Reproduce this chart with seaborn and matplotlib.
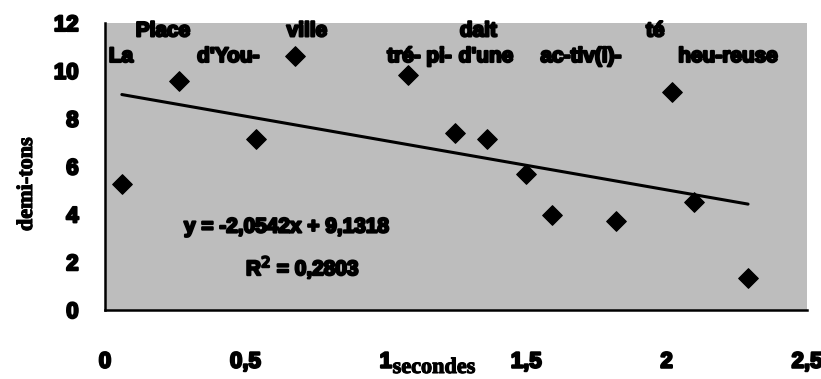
import numpy as np
import pandas as pd
import matplotlib
matplotlib.use("Agg")
import matplotlib.pyplot as plt
import matplotlib.patheffects as pe
import seaborn as sns

# ---- data ----
seconds = [0.06, 0.264, 0.538, 0.676, 1.08, 1.247, 1.36, 1.499, 1.591, 1.82, 2.019, 2.098, 2.29]
semitones = [5.26, 9.56, 7.13, 10.6, 9.83, 7.39, 7.14, 5.68, 3.97, 3.74, 9.11, 4.53, 1.35]

slope = -2.0542
intercept = 9.1318
r2 = 0.2803

syllables = ["La", "Place", "d'You-", "ville", "tré-", "pi-", "d'une", "dait",
             "ac-tiv(i)-", "té", "heu-reuse"]
syll_x = [0.057, 0.207, 0.44, 0.72, 1.065, 1.19, 1.357, 1.33, 1.696, 1.96, 2.22]
syll_y = [10.6, 11.67, 10.6, 11.67, 10.6, 10.6, 10.6, 11.67, 10.6, 11.67, 10.6]

x_ticks = [0, 0.5, 1, 1.5, 2, 2.5]
x_ticklabels = ["0", "0,5", "1", "1,5", "2", "2,5"]
y_ticks = [0, 2, 4, 6, 8, 10, 12]

sns.set_style("white")
plt.rcParams['font.family'] = ['Liberation Sans', 'DejaVu Sans']
plt.rcParams['text.color'] = 'black'
plt.rcParams['axes.labelcolor'] = 'black'
plt.rcParams['xtick.color'] = 'black'
plt.rcParams['ytick.color'] = 'black'

heavy = [pe.withStroke(linewidth=1.6, foreground='black')]
medium = [pe.withStroke(linewidth=0.8, foreground='black')]

W, H = 821, 379
fig = plt.figure(figsize=(W / 100, H / 100), dpi=100)
ax = fig.add_axes([105 / W, 1 - 310 / H, (807 - 105) / W, (310 - 23) / H])
ax.set_facecolor('#bdbdbd')

df = pd.DataFrame({"secondes": seconds, "demi-tons": semitones})
sns.scatterplot(data=df, x="secondes", y="demi-tons", marker='D', s=100,
                color='black', edgecolor='black', ax=ax, zorder=3)

xl = np.array([min(seconds), max(seconds)])
trend = pd.DataFrame({"x": xl, "y": slope * xl + intercept})
sns.lineplot(data=trend, x="x", y="y", color='black', lw=2.2, ax=ax, zorder=2)

for s, xx, yy in zip(syllables, syll_x, syll_y):
    ax.text(xx, yy, s, ha='center', va='center', fontsize=15,
            fontweight='bold', color='black', zorder=4, path_effects=heavy)

def fmt(v):
    return f"{v:.4f}".replace('.', ',')

eq = f"y = {fmt(slope)}x + {fmt(intercept)}"
ax.text(0.648, 3.47, eq, ha='center', va='center', fontsize=15,
        fontweight='bold', zorder=4, path_effects=heavy)
ax.text(0.705, 1.8, f"R$^2$ = {fmt(r2)}", ha='center', va='center', fontsize=15,
        fontweight='bold', zorder=4, path_effects=heavy)

ax.set_xlim(0, 2.5)
ax.set_ylim(0, 12)
ax.set_xticks(x_ticks)
ax.set_xticklabels(x_ticklabels)
ax.set_yticks(y_ticks)
for lab in ax.get_xticklabels() + ax.get_yticklabels():
    lab.set_fontweight('bold')
    lab.set_fontsize(16)
    lab.set_path_effects(heavy)
ax.tick_params(axis='x', direction='inout', length=16, width=1.5, pad=22)
ax.tick_params(axis='y', direction='inout', length=16, width=1.5, pad=11)

for sp in ['top', 'right']:
    ax.spines[sp].set_visible(False)
for sp in ['left', 'bottom']:
    ax.spines[sp].set_linewidth(1.8)
    ax.spines[sp].set_color('black')

ax.set_xlabel("secondes", family='Liberation Serif', fontweight='bold', fontsize=16,
              path_effects=medium)
ax.set_ylabel("demi-tons", family='Liberation Serif', fontweight='bold', fontsize=16,
              path_effects=medium)
ax.xaxis.set_label_coords((434 - 105) / (807 - 105), -(378 - 310) / (310 - 23))
ax.xaxis.label.set_va('bottom')
ax.yaxis.set_label_coords(-(105 - 17) / (807 - 105), (310 - 184) / (310 - 23))
ax.yaxis.label.set_va('top')

fig.savefig("out.png", dpi=100)
